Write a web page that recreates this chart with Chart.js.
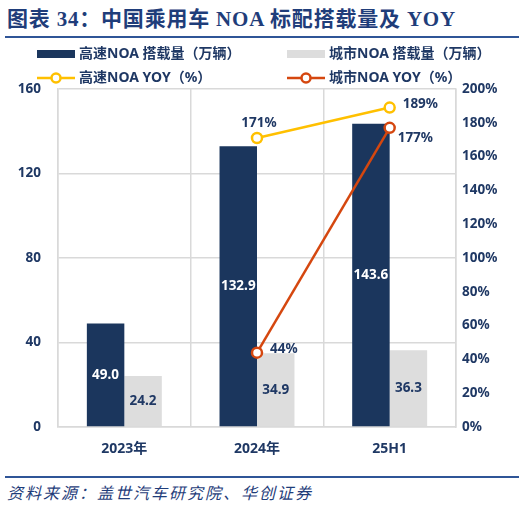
<!DOCTYPE html>
<html>
<head>
<meta charset="utf-8">
<script src="https://cdn.jsdelivr.net/npm/chart.js@4.4.1/dist/chart.umd.min.js"></script>
<style>
  body { margin: 0; width: 524px; height: 508px; background: #fff; position: relative; overflow: hidden;
         font-family: "Noto Sans", "Noto Sans CJK SC", sans-serif; }
  #title { position: absolute; left: 7px; top: 2px; white-space: nowrap; color: #1F3D7A;
           font: bold 21px "Liberation Serif", "Noto Sans CJK SC", serif; letter-spacing: 0.8px; }
  .rule { position: absolute; left: 5px; width: 514px; height: 2px; background: #2F5597; }
  #wrap { position: absolute; left: 0; top: 0; width: 524px; height: 470px; }
  #legend { position: absolute; left: 0; top: 0; width: 524px; }
  .item { position: absolute; height: 20px; white-space: nowrap; color: #1F3864;
          font: bold 14px "Noto Sans", "Noto Sans CJK SC", sans-serif; line-height: 20px; }
  .item canvas { vertical-align: middle; margin-right: 4px; }
  #src { position: absolute; left: 7px; top: 480px; white-space: nowrap; color: #1F3D7A;
         font: italic 16px "Noto Sans CJK SC", sans-serif; letter-spacing: 2px; }
</style>
</head>
<body>
<div id="title">图表 34：中国乘用车 NOA 标配搭载量及 YOY</div>
<div class="rule" style="top:36px"></div>
<div id="wrap"><canvas id="myChart"></canvas></div>
<div id="legend"></div>
<div class="rule" style="top:476px"></div>
<div id="src">资料来源：盖世汽车研究院、华创证券</div>
<script>
// categories and values
const categories = ['2023年', '2024年', '25H1'];
const highwayVolume = [49.0, 132.9, 143.6];   // 万辆
const cityVolume = [24.2, 34.9, 36.3];        // 万辆
const highwayYoy = [null, 171, 189];          // %
const cityYoy = [null, 44, 177];              // %
const leftTicks = [0, 40, 80, 120, 160];
const rightMax = 200;

const navy = '#1B365D';
const textNavy = '#1F3864';
const gridGrey = '#D9D9D9';
const tickFont = { family: '"Noto Sans", "Noto Sans CJK SC", sans-serif', size: 13.5, weight: 'bold' };

// draws the numbers on bars and next to line points
const valueLabels = {
  id: 'valueLabels',
  afterDatasetsDraw(chart) {
    const ctx = chart.ctx;
    ctx.save();
    ctx.font = 'bold 13.5px "Noto Sans", "Noto Sans CJK SC", sans-serif';
    chart.data.datasets.forEach((ds, i) => {
      const meta = chart.getDatasetMeta(i);
      meta.data.forEach((el, j) => {
        const v = ds.data[j];
        if (v == null) return;
        ctx.fillStyle = ds.labelColor;
        if (ds.type === 'bar') {
          ctx.textAlign = 'center';
          ctx.textBaseline = 'middle';
          ctx.fillText(v.toFixed(1), el.x, (el.y + el.base) / 2);
        } else {
          const pos = ds.labelPos[j];
          const txt = v + '%';
          ctx.textBaseline = 'middle';
          if (pos === 'top') {
            ctx.textAlign = 'center';
            ctx.fillText(txt, el.x + 2, el.y - 15);
          } else if (pos === 'below') {
            ctx.textAlign = 'left';
            ctx.fillText(txt, el.x + 8, el.y + 10);
          } else {
            ctx.textAlign = 'left';
            ctx.fillText(txt, el.x + 13, el.y - 3);
          }
        }
      });
    });
    ctx.restore();
  }
};

const ctx = document.getElementById('myChart').getContext('2d');
const chart = new Chart(ctx, {
  data: {
    labels: categories,
    datasets: [
      {
        type: 'bar', label: '高速NOA 搭载量（万辆）', data: highwayVolume,
        backgroundColor: navy, yAxisID: 'y', order: 2, labelColor: '#FFFFFF',
        categoryPercentage: 0.565, barPercentage: 1
      },
      {
        type: 'bar', label: '城市NOA 搭载量（万辆）', data: cityVolume,
        backgroundColor: '#DDDDDD', yAxisID: 'y', order: 2, labelColor: textNavy,
        categoryPercentage: 0.565, barPercentage: 1
      },
      {
        type: 'line', label: '高速NOA YOY（%）', data: highwayYoy,
        borderColor: '#FFC000', backgroundColor: '#FFFFFF', borderWidth: 2.5,
        pointRadius: 5, pointBorderWidth: 2.5, pointBackgroundColor: '#FFFFFF',
        yAxisID: 'y1', order: 1, labelColor: textNavy, labelPos: ['', 'top', 'right']
      },
      {
        type: 'line', label: '城市NOA YOY（%）', data: cityYoy,
        borderColor: '#D5470F', backgroundColor: '#FFFFFF', borderWidth: 2.5,
        pointRadius: 5, pointBorderWidth: 2.5, pointBackgroundColor: '#FFFFFF',
        yAxisID: 'y1', order: 1, labelColor: textNavy, labelPos: ['', 'right', 'below']
      }
    ]
  },
  options: {
    responsive: true,
    maintainAspectRatio: false,
    animation: false,
    layout: { padding: { top: 89, left: 0, right: 0, bottom: 0 } },
    plugins: { legend: { display: false }, tooltip: { enabled: false } },
    scales: {
      x: {
        grid: { color: gridGrey, lineWidth: 1.5, drawTicks: false, offset: true },
        border: { color: gridGrey, width: 1.5 },
        ticks: { color: textNavy, font: { ...tickFont, size: 14 }, padding: 14 },
        afterFit(s) { s.height = 43; }
      },
      y: {
        position: 'left', min: leftTicks[0], max: leftTicks[leftTicks.length - 1],
        afterBuildTicks(s) { s.ticks = leftTicks.map(v => ({ value: v })); },
        grid: { color: gridGrey, lineWidth: 1.5, drawTicks: false },
        border: { color: gridGrey, width: 1.5 },
        ticks: { color: textNavy, font: tickFont, padding: 17 },
        afterFit(s) { s.width = 58; }
      },
      y1: {
        position: 'right', min: 0, max: rightMax,
        grid: { display: false, drawTicks: false },
        border: { color: gridGrey, width: 1.5 },
        ticks: { color: textNavy, font: tickFont, padding: 6, stepSize: 20, callback: v => v + '%' },
        afterFit(s) { s.width = 68; }
      }
    }
  },
  plugins: [valueLabels]
});

// two-column legend built from the datasets
const slots = [[37, 43], [287, 43], [37, 67], [287, 67]];
const legend = document.getElementById('legend');
chart.data.datasets.forEach((ds, i) => {
  const item = document.createElement('div');
  item.className = 'item';
  item.style.left = slots[i][0] + 'px';
  item.style.top = slots[i][1] + 'px';
  const c = document.createElement('canvas');
  c.width = 38; c.height = 14;
  const g = c.getContext('2d');
  if (ds.type === 'bar') {
    g.fillStyle = ds.backgroundColor;
    g.fillRect(0, 3, 38, 8);
  } else {
    g.strokeStyle = ds.borderColor;
    g.lineWidth = 2.5;
    g.beginPath(); g.moveTo(0, 7); g.lineTo(38, 7); g.stroke();
    g.fillStyle = '#FFFFFF';
    g.beginPath(); g.arc(19, 7, 4.5, 0, Math.PI * 2); g.fill(); g.stroke();
  }
  item.appendChild(c);
  item.appendChild(document.createTextNode(ds.label));
  legend.appendChild(item);
});
</script>
</body>
</html>
